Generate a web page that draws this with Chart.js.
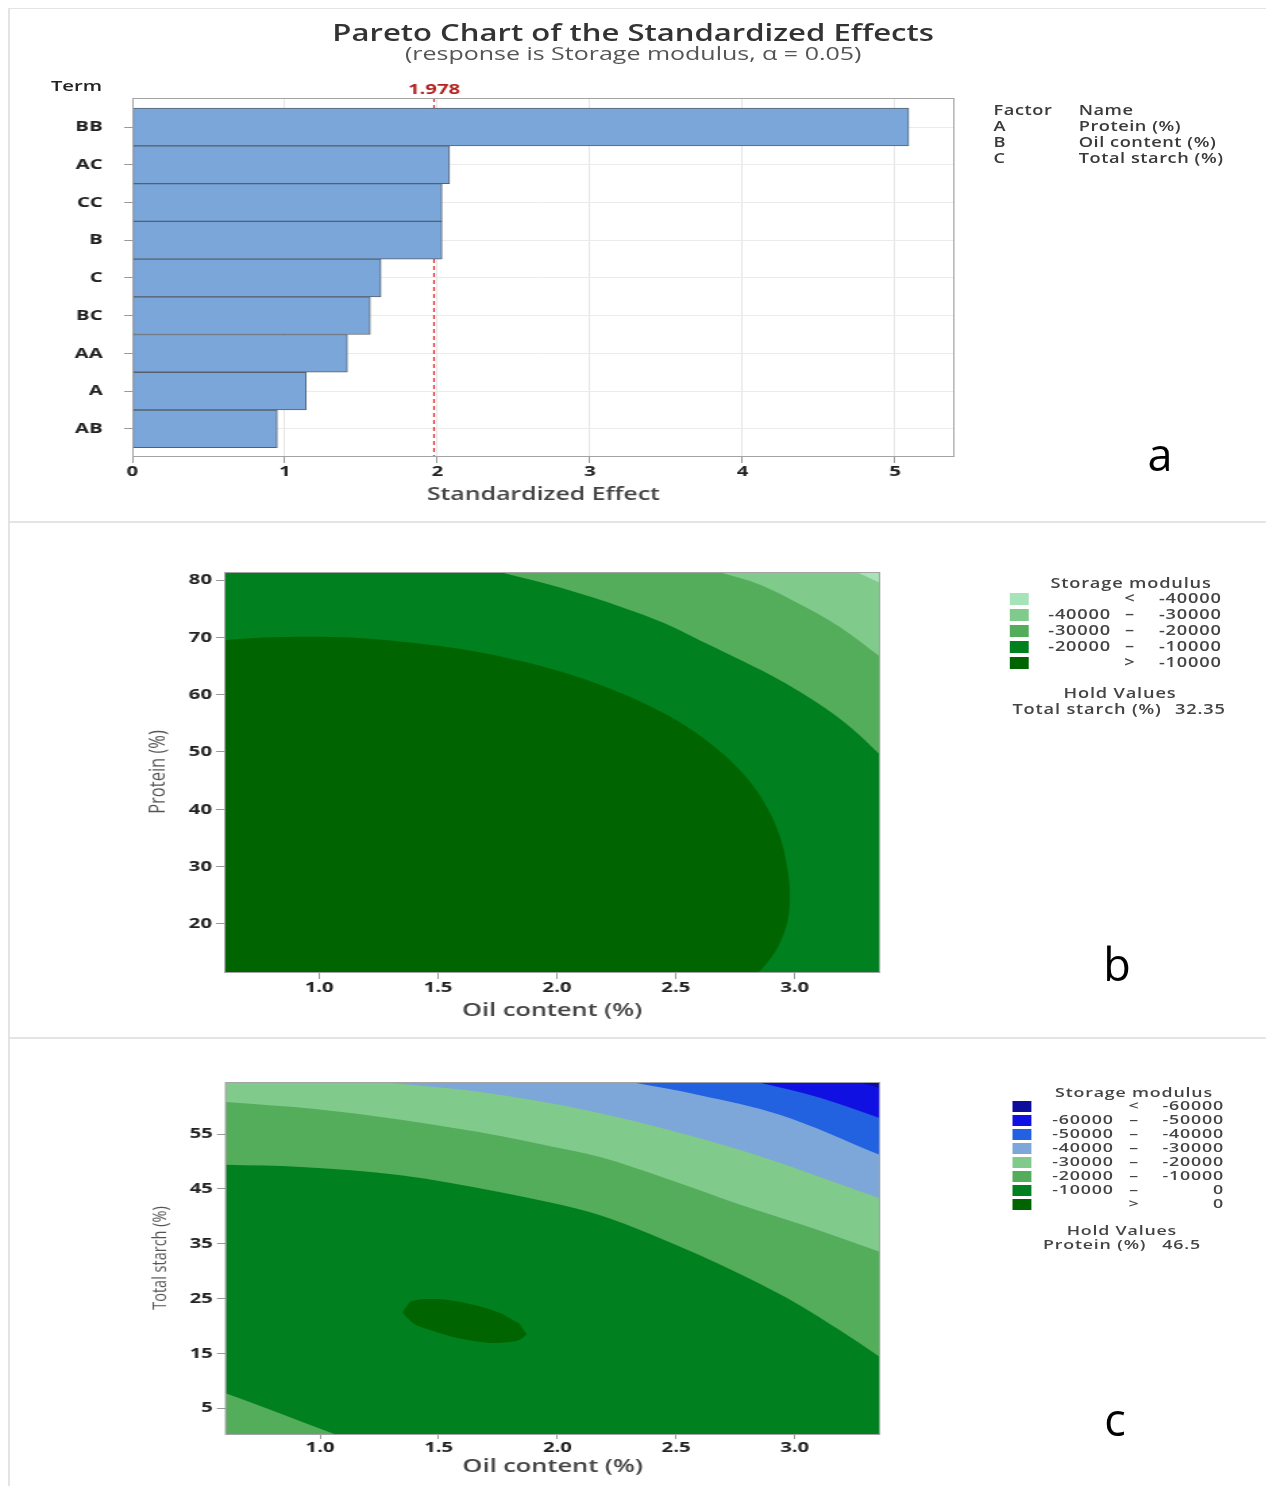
<!DOCTYPE html>
<html>
<head>
<meta charset="utf-8">
<title>Storage modulus – effects and contour plots</title>
<script src="https://cdn.jsdelivr.net/npm/chart.js@4.4.1/dist/chart.umd.min.js"></script>
<style>
  html, body { margin: 0; padding: 0; background: #fff; }
  body { width: 1266px; height: 1486px; position: relative; overflow: hidden; font-family: 'Open Sans', 'Noto Sans', sans-serif; color: #333; }
  /* the whole figure is laid out narrow and stretched sideways */
  #wrap { position: absolute; left: 0; top: 0; width: 938px; height: 1486px; transform: scaleX(1.35); transform-origin: 0 0; }
  canvas { position: absolute; left: 0; }
  .t { position: absolute; white-space: nowrap; line-height: 1; }
  .rule { position: absolute; background: #e4e4e4; }
  .tag { position: absolute; font-size: 45px; color: #000; line-height: 1; transform: translate(-50%, -50%); }
</style>
</head>
<body>
<div class="rule" style="left:8px;top:8px;width:2px;height:1478px"></div>
<div class="rule" style="left:8px;top:8px;width:1258px;height:1px"></div>
<div class="rule" style="left:8px;top:521px;width:1258px;height:2px"></div>
<div class="rule" style="left:8px;top:1037px;width:1258px;height:2px"></div>
<div id="wrap">
  <canvas id="pareto" width="712" height="516" style="top:0"></canvas>
  <canvas id="contourB" width="660" height="512" style="top:522px"></canvas>
  <canvas id="contourC" width="660" height="456" style="top:1038px"></canvas>
</div>
<div class="tag" style="left:1160px;top:453px">a</div>
<div class="tag" style="left:1117px;top:963px">b</div>
<div class="tag" style="left:1115px;top:1418px">c</div>

<script>
// ---- Pareto chart of the standardized effects ----
const terms = ['BB', 'AC', 'CC', 'B', 'C', 'BC', 'AA', 'A', 'AB'];
const effects = [5.09, 2.08, 2.03, 2.03, 1.63, 1.56, 1.41, 1.14, 0.95];
const critical = 1.978;
const alpha = 0.05;
const effectTicks = [0, 1, 2, 3, 4, 5];
const factorCodes = ['A', 'B', 'C'];
const factorNames = ['Protein (%)', 'Oil content (%)', 'Total starch (%)'];

// ---- contour plot b: Protein vs Oil content ----
const bBreaks = [-40000, -30000, -20000, -10000];
const bColors = ['#a6e3b9', '#80cb8b', '#53ad5a', '#00801f', '#006400'];
const bRange = [0.6, 3.36, 11.6, 81.4];
const bHold = ['Total starch (%)', '32.35'];
const oilTicks = [1.0, 1.5, 2.0, 2.5, 3.0];
const proteinTicks = [20, 30, 40, 50, 60, 70, 80];
// contour lines (x = oil content, y = protein)
const b40X = [3.26, 3.36];
const b40Y = [81.4, 79.5];
const b30X = [2.68, 2.86, 3.02, 3.19, 3.36];
const b30Y = [81.4, 79.1, 75.8, 71.8, 66.6];
const b20X = [1.76, 2.02, 2.27, 2.45, 2.60, 2.75, 2.90, 3.03, 3.15, 3.26, 3.36];
const b20Y = [81.4, 78.6, 75.3, 72.5, 69.5, 66.5, 63.4, 60.3, 57.0, 53.4, 49.5];
const b10X = [0.60, 0.80, 1.00, 1.20, 1.40, 1.60, 1.80, 2.00, 2.20, 2.40, 2.55, 2.70, 2.80, 2.88, 2.94, 2.97, 2.98, 2.97, 2.93, 2.87, 2.84];
const b10Y = [69.5, 70.0, 70.1, 69.8, 69.0, 67.9, 66.3, 64.2, 61.4, 57.8, 54.3, 49.6, 45.4, 40.6, 35.0, 29.5, 25.0, 20.5, 16.0, 12.5, 11.6];

// ---- contour plot c: Total starch vs Oil content ----
const cBreaks = [-60000, -50000, -40000, -30000, -20000, -10000, 0];
const cColors = ['#0d0d9b', '#1010e3', '#2261e0', '#7ea7d9', '#80cb8b', '#53ad5a', '#00801f', '#006400'];
const cRange = [0.6, 3.36, 0.3, 64.5];
const cHold = ['Protein (%)', '46.5'];
const starchTicks = [5, 15, 25, 35, 45, 55];
// contour lines (x = oil content, y = total starch)
const c60X = [3.27, 3.36];
const c60Y = [64.5, 63.4];
const c50X = [2.84, 3.11, 3.36];
const c50Y = [64.5, 61.6, 57.9];
const c40X = [2.31, 2.60, 2.94, 3.36];
const c40Y = [64.5, 62.1, 58.5, 51.2];
const c30X = [1.25, 1.67, 2.18, 2.77, 3.36];
const c30Y = [64.5, 62.7, 58.8, 52.1, 43.3];
const c20X = [0.60, 0.97, 1.34, 1.55, 1.76, 1.97, 2.18, 2.47, 2.77, 3.07, 3.36];
const c20Y = [60.85, 59.6, 57.6, 56.2, 54.65, 52.8, 50.8, 46.7, 42.1, 37.9, 33.5];
const c10X = [0.60, 0.92, 1.34, 1.76, 1.97, 2.18, 2.39, 2.60, 2.81, 3.02, 3.19, 3.36];
const c10Y = [49.4, 49.0, 47.5, 44.4, 42.5, 40.2, 36.8, 32.9, 28.6, 23.8, 19.2, 14.3];
const c10CornerX = [0.60, 0.83, 1.06];
const c10CornerY = [7.8, 4.1, 0.3];
const c0X = [1.87, 1.85, 1.82, 1.72, 1.59, 1.46, 1.40, 1.37, 1.35, 1.36, 1.39, 1.49, 1.62, 1.75, 1.84];
const c0Y = [18.5, 17.7, 17.2, 16.9, 17.7, 19.3, 20.3, 21.4, 22.4, 23.3, 24.6, 24.9, 24.1, 22.5, 20.4];

Chart.defaults.font.family = "'Open Sans', 'Noto Sans', sans-serif";
Chart.defaults.animation = false;

const tickFont = { size: 15, weight: 'bold' };
const tickColor = '#222';

// grey box around the plotting area
const frame = {
  id: 'frame',
  afterDatasetsDraw(chart) {
    const { ctx, chartArea: a } = chart;
    ctx.save();
    ctx.strokeStyle = '#a3a3a3';
    ctx.lineWidth = 1;
    ctx.strokeRect(a.left + 0.5, a.top + 0.5, a.width - 1, a.height);
    ctx.restore();
  }
};

// red dashed reference line for the critical t value
const critLine = {
  id: 'critLine',
  beforeDatasetsDraw(chart) {
    const { ctx, chartArea: a, scales } = chart;
    const px = scales.x.getPixelForValue(critical);
    ctx.save();
    ctx.strokeStyle = '#e3262c';
    ctx.lineWidth = 1.2;
    ctx.setLineDash([4, 3]);
    ctx.beginPath();
    ctx.moveTo(px, a.top);
    ctx.lineTo(px, a.bottom);
    ctx.stroke();
    ctx.restore();
  },
  afterDraw(chart) {
    const { ctx, chartArea: a, scales } = chart;
    const px = scales.x.getPixelForValue(critical);
    ctx.save();
    ctx.fillStyle = '#b3211f';
    ctx.font = "bold 15px 'Open Sans', sans-serif";
    ctx.textAlign = 'center';
    ctx.textBaseline = 'middle';
    ctx.fillText(critical.toFixed(3), px, a.top - 8);
    ctx.restore();
  }
};

new Chart(document.getElementById('pareto'), {
  type: 'bar',
  data: {
    datasets: [{
      data: effects.map((v, i) => ({ x: v, y: i })),
      backgroundColor: '#7ba6d9',
      borderColor: '#56606b',
      borderWidth: 1,
      borderSkipped: false,
      barPercentage: 1,
      categoryPercentage: 1
    }]
  },
  options: {
    indexAxis: 'y',
    responsive: false,
    layout: { padding: { top: 98, right: 5, left: 0, bottom: 0 } },
    plugins: { legend: { display: false }, tooltip: { enabled: false } },
    scales: {
      x: {
        type: 'linear',
        min: 0,
        max: 5.39,
        afterBuildTicks: s => { s.ticks = effectTicks.map(v => ({ value: v })); },
        afterFit: s => { s.height = 60; },
        grid: { color: '#e6e6e6', tickColor: '#999', tickLength: 7 },
        border: { display: false },
        ticks: { font: tickFont, color: tickColor, padding: 0, maxRotation: 0 },
        title: { display: true, text: 'Standardized Effect', color: '#444', font: { size: 18.4, weight: '600' }, padding: { top: 0, bottom: 10 } }
      },
      y: {
        type: 'linear',
        reverse: true,
        offset: false,
        min: -0.77,
        max: 8.72,
        afterBuildTicks: s => { s.ticks = terms.map((t, i) => ({ value: i })); },
        afterFit: s => { s.width = 98; },
        grid: { offset: false, color: '#ebebeb', tickColor: '#999', tickLength: 6 },
        border: { display: false },
        ticks: { font: tickFont, color: tickColor, padding: 16, callback: v => terms[v] }
      }
    }
  },
  plugins: [critLine, frame]
});

// Filled contour bands, painted in order: a base colour for the whole area,
// closed shapes for the inner regions, then each contour line filled up to the
// top ('end') or down to the bottom ('start') of the plot.
function contourChart(id, range, bands, yTicks, yTitle, opt) {
  const [x0, x1, y0, y1] = range;
  const corner = { tl: { x: x0, y: y1 }, tr: { x: x1, y: y1 }, br: { x: x1, y: y0 }, bl: { x: x0, y: y0 } };
  const datasets = bands.map((b, i) => {
    const base = { backgroundColor: b.color, borderWidth: 0, pointRadius: 0, order: bands.length - i };
    if (b.fill === 'box') {
      return { ...base, data: ['tl', 'tr', 'br', 'bl'].map(k => corner[k]), fill: 'shape', tension: 0 };
    }
    const data = b.x.map((x, k) => ({ x, y: b.y[k] }));
    if (b.fill === 'shape') {
      (b.corners || []).forEach(k => data.push(corner[k]));
      return { ...base, data, fill: 'shape', tension: 0.35 };
    }
    return { ...base, data, fill: b.fill, cubicInterpolationMode: 'monotone' };
  });
  return new Chart(document.getElementById(id), {
    type: 'line',
    data: { datasets },
    options: {
      responsive: false,
      layout: { padding: { top: opt.top, right: 8, left: 0, bottom: 0 } },
      plugins: { legend: { display: false }, tooltip: { enabled: false } },
      scales: {
        x: {
          type: 'linear',
          min: x0,
          max: x1,
          afterBuildTicks: s => { s.ticks = oilTicks.map(v => ({ value: v })); },
          afterFit: s => { s.height = opt.xHeight; },
          grid: { drawOnChartArea: false, tickColor: '#999', tickLength: opt.tickLength },
          border: { display: false },
          ticks: { font: tickFont, color: tickColor, padding: 0, maxRotation: 0, callback: v => Number(v).toFixed(1) },
          title: { display: true, text: 'Oil content (%)', color: '#444', font: { size: 18.8, weight: '600' }, padding: { top: 0, bottom: opt.xTitlePad } }
        },
        y: {
          type: 'linear',
          min: y0,
          max: y1,
          afterBuildTicks: s => { s.ticks = yTicks.map(v => ({ value: v })); },
          afterFit: s => { s.width = opt.yWidth; },
          grid: { drawOnChartArea: false, tickColor: '#999', tickLength: 6 },
          border: { display: false },
          ticks: { font: tickFont, color: tickColor, padding: 3 },
          title: { display: true, text: yTitle, color: '#555', font: { size: opt.yTitleSize, weight: 'normal' }, padding: { top: opt.yTitlePad, bottom: 0 } }
        }
      }
    },
    plugins: [frame]
  });
}

contourChart('contourB', bRange, [
  { color: bColors[3], fill: 'box' },
  { color: bColors[4], fill: 'shape', x: b10X, y: b10Y, corners: ['bl'] },
  { color: bColors[2], fill: 'end', x: b20X, y: b20Y },
  { color: bColors[1], fill: 'end', x: b30X, y: b30Y },
  { color: bColors[0], fill: 'end', x: b40X, y: b40Y }
], proteinTicks, 'Protein (%)', { top: 50, xHeight: 62, tickLength: 7, xTitlePad: 12, yWidth: 166, yTitleSize: 16.5, yTitlePad: 107 });

contourChart('contourC', cRange, [
  { color: cColors[6], fill: 'box' },
  { color: cColors[7], fill: 'shape', x: c0X, y: c0Y },
  { color: cColors[5], fill: 'start', x: c10CornerX, y: c10CornerY },
  { color: cColors[5], fill: 'end', x: c10X, y: c10Y },
  { color: cColors[4], fill: 'end', x: c20X, y: c20Y },
  { color: cColors[3], fill: 'end', x: c30X, y: c30Y },
  { color: cColors[2], fill: 'end', x: c40X, y: c40Y },
  { color: cColors[1], fill: 'end', x: c50X, y: c50Y },
  { color: cColors[0], fill: 'end', x: c60X, y: c60Y }
], starchTicks, 'Total starch (%)', { top: 44, xHeight: 60, tickLength: 5, xTitlePad: 16, yWidth: 166.7, yTitleSize: 14.5, yTitlePad: 110 });

// ---- text outside the canvases ----
const wrap = document.getElementById('wrap');
function text(str, x, y, style, align) {
  const el = document.createElement('div');
  el.className = 't';
  el.textContent = str;
  el.style.left = x + 'px';
  el.style.top = y + 'px';
  const tx = align === 'center' ? '-50%' : align === 'right' ? '-100%' : '0';
  el.style.transform = `translate(${tx}, -50%)`;
  Object.assign(el.style, style);
  wrap.appendChild(el);
}

text('Pareto Chart of the Standardized Effects', 469, 32, { fontSize: '23px', fontWeight: 600, color: '#333' }, 'center');
text(`(response is Storage modulus, \u03b1 = ${alpha.toFixed(2)})`, 469, 53, { fontSize: '18.5px', color: '#555' }, 'center');
text('Term', 75.6, 85, { fontSize: '15px', fontWeight: 600, color: '#222' }, 'right');

const small = { fontSize: '13.5px', fontWeight: 600, color: '#3a3a3a', letterSpacing: '0.4px' };
text('Factor', 736, 111, small, 'left');
text('Name', 799, 111, small, 'left');
factorCodes.forEach((c, i) => {
  text(c, 736, 127 + 16 * i, small, 'left');
  text(factorNames[i], 799, 127 + 16 * i, small, 'left');
});

function legend(breaks, colors, hold, o) {
  const n = colors.length;
  const f = { fontSize: o.size, fontWeight: 600, color: '#444', letterSpacing: '0.6px' };
  text('Storage modulus', o.cx, o.top, f, 'center');
  colors.forEach((c, i) => {
    const y = o.top + o.first + o.step * i;
    const sw = document.createElement('div');
    sw.style.cssText = `position:absolute;left:${o.sx}px;top:${y - o.sh / 2}px;width:14px;height:${o.sh}px;background:${c}`;
    wrap.appendChild(sw);
    const lo = i === 0 || i === n - 1 ? '' : String(breaks[i - 1]);
    const sep = i === 0 ? '<' : i === n - 1 ? '>' : '\u2013';
    const hi = i === n - 1 ? String(breaks[n - 2]) : String(breaks[i]);
    if (lo) text(lo, o.loR, y, f, 'right');
    text(sep, o.sepC, y, f, 'center');
    text(hi, o.hiR, y, f, 'right');
  });
  text('Hold Values', o.holdC, o.holdY, f, 'center');
  text(hold[0], o.holdL, o.holdY + o.holdStep, f, 'left');
  text(hold[1], o.holdR, o.holdY + o.holdStep, f, 'right');
}

legend(bBreaks, bColors, bHold, { size: '13.5px', cx: 837.8, top: 584, first: 15, step: 16, sx: 748, sh: 12, loR: 823, sepC: 837, hiR: 905, holdC: 829.6, holdY: 694, holdStep: 16, holdL: 750, holdR: 908 });
legend(cBreaks, cColors, cHold, { size: '13.2px', cx: 840, top: 1093, first: 13, step: 14, sx: 750, sh: 11, loR: 825, sepC: 840, hiR: 906.7, holdC: 831, holdY: 1231, holdStep: 14, holdL: 772.6, holdR: 889.6 });
</script>
</body>
</html>
